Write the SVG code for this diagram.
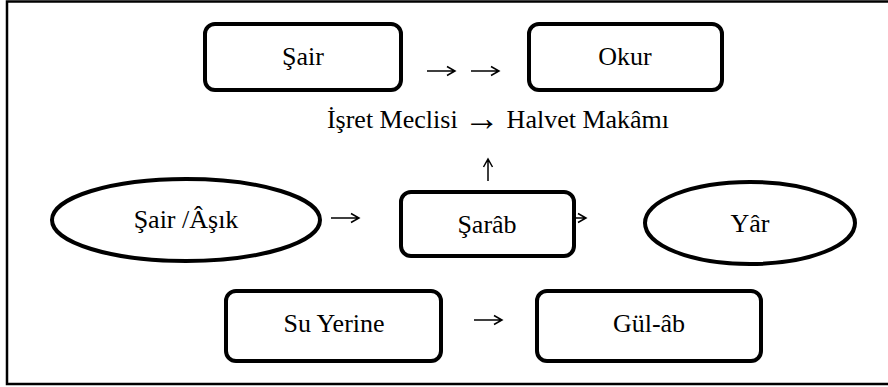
<svg xmlns="http://www.w3.org/2000/svg" width="888" height="387" viewBox="0 0 888 387">
<defs>
<path id="arr" d="M0 0 H28 M20 -4.5 L28 0 L20 4.5" fill="none" stroke="#000" stroke-width="1.5"/>
</defs>
<style>
text{font-family:"Liberation Serif","Times New Roman",serif;font-size:26px;fill:#000}
.c{text-anchor:middle}
.box{fill:#fff;stroke:#000;stroke-width:4}
.frame{fill:none;stroke:#000;stroke-width:2.5}
</style>
<rect class="frame" x="7" y="1.5" width="900" height="382.5"/>
<g id="connectors">
<use href="#arr" x="427" y="71"/>
<use href="#arr" x="471" y="71"/>
<text class="c" x="498" y="128">İşret Meclisi <tspan font-size="36" dy="1.5">→</tspan><tspan dy="-1.5"> Halvet Makâmı</tspan></text>
<path d="M488 181 V159 M483.5 167 L488 159 L492.5 167" fill="none" stroke="#000" stroke-width="1.5"/>
<use href="#arr" x="331" y="218"/>
<use href="#arr" x="558" y="218"/>
<use href="#arr" x="474" y="320"/>
</g>
<g id="sair">
<rect class="box" x="205" y="24" width="196" height="66" rx="10"/>
<text class="c" x="303" y="65">Şair</text>
</g>
<g id="okur">
<rect class="box" x="529" y="24" width="193" height="66" rx="10"/>
<text class="c" x="625" y="65">Okur</text>
</g>
<g id="sair-asik">
<ellipse class="box" cx="186" cy="220" rx="134" ry="41"/>
<text class="c" x="186" y="228">Şair /Âşık</text>
</g>
<g id="sarab">
<rect class="box" x="401" y="192" width="173" height="64" rx="10"/>
<text class="c" x="487" y="233">Şarâb</text>
</g>
<g id="yar">
<ellipse class="box" cx="750" cy="223" rx="105" ry="41"/>
<text class="c" x="750" y="232">Yâr</text>
</g>
<g id="su-yerine">
<rect class="box" x="226" y="291" width="215" height="70" rx="10"/>
<text class="c" x="334" y="332">Su Yerine</text>
</g>
<g id="gul-ab">
<rect class="box" x="537" y="291" width="224" height="70" rx="10"/>
<text class="c" x="649" y="332">Gül-âb</text>
</g>
</svg>
